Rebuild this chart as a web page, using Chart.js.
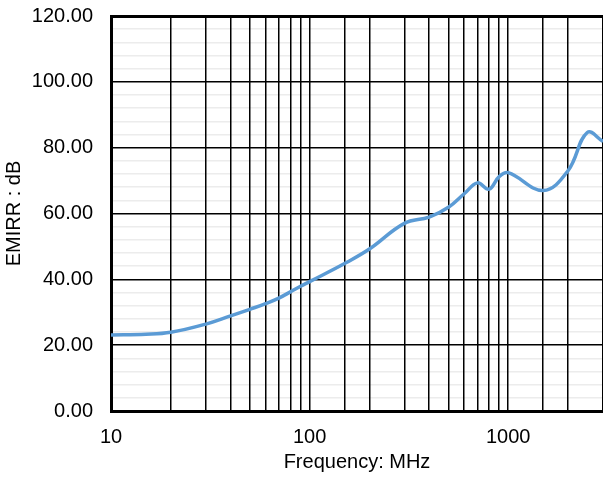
<!DOCTYPE html>
<html>
<head>
<meta charset="utf-8">
<script src="https://cdn.jsdelivr.net/npm/chart.js@4"></script>
<style>
  html, body { margin: 0; padding: 0; background: #fff; }
  #wrap { width: 603px; height: 478px; }
</style>
</head>
<body>
<div id="wrap"><canvas id="myChart" width="603" height="478"></canvas></div>
<script>
// frequency (MHz) and EMIRR (dB)
const freqs = [10, 15, 20, 30, 40, 50, 60, 70, 80, 90, 100, 150, 200, 300, 400, 500, 600, 700, 800, 900, 1000, 1500, 2000, 2500, 3000];
const emirr = [23.1, 23.3, 23.9, 26.4, 28.9, 30.9, 32.6, 34.3, 36.2, 37.9, 39.3, 44.8, 49.2, 57.0, 58.9, 61.9, 66.0, 69.3, 67.4, 71.2, 72.4, 67.0, 73.0, 84.6, 81.9];
const xLabels = [10, 100, 1000];
const yMajor = 20;

const font = "Arial, 'Liberation Sans', sans-serif";
const ctx = document.getElementById('myChart').getContext('2d');

new Chart(ctx, {
    type: 'line',
    data: {
        datasets: [{
            data: freqs.map((f, i) => ({ x: f, y: emirr[i] })),
            borderColor: '#5B9BD5',
            borderWidth: 3.5,
            pointRadius: 0,
            tension: 0.4,
            fill: false
        }]
    },
    options: {
        responsive: false,
        animation: false,
        layout: { padding: { top: 16, right: 0, left: 0, bottom: 0 } },
        scales: {
            x: {
                type: 'logarithmic',
                min: 10,
                max: 3000,
                afterFit: s => { s.height = 67; s.paddingLeft = 0; s.paddingRight = 0; },
                grid: { color: '#000', lineWidth: 1.5, drawTicks: false, z: -1 },
                border: { color: '#000', width: 3 },
                ticks: {
                    autoSkip: false,
                    maxRotation: 0,
                    padding: 14,
                    color: '#000',
                    font: { family: font, size: 20 },
                    callback: v => xLabels.includes(v) ? String(v) : ''
                },
                title: {
                    display: true,
                    text: 'Frequency: MHz',
                    color: '#000',
                    font: { family: font, size: 20 },
                    padding: { top: 0, bottom: 4 }
                }
            },
            y: {
                min: 0,
                max: 120,
                afterFit: s => { s.width = 111; s.paddingTop = 0; s.paddingBottom = 0; },
                grid: {
                    drawTicks: false,
                    z: -2,
                    color: c => c.tick.value % yMajor === 0 ? '#000' : '#ececec',
                    lineWidth: c => c.tick.value === 120 ? 3 : 1.5
                },
                border: { color: '#000', width: 3 },
                ticks: {
                    stepSize: 4,
                    autoSkip: false,
                    padding: 18,
                    color: '#000',
                    font: { family: font, size: 20 },
                    callback: v => v % yMajor === 0 ? v.toFixed(2) : ''
                },
                title: {
                    display: true,
                    text: 'EMIRR : dB',
                    color: '#000',
                    font: { family: font, size: 20 },
                    padding: { top: 2, bottom: 0 }
                }
            }
        },
        plugins: {
            legend: { display: false },
            tooltip: { enabled: false }
        }
    }
});
</script>
</body>
</html>
